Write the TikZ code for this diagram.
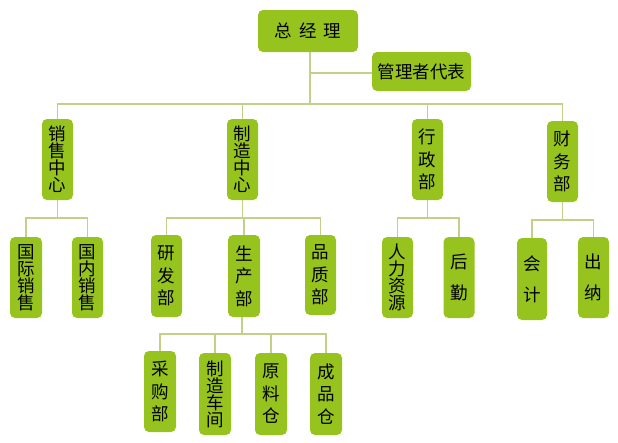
\documentclass[tikz,border=0pt]{standalone}
\usepackage{fontspec}
\newfontfamily\cjk{Noto Sans CJK SC}
\definecolor{boxgreen}{HTML}{96C31E}
\definecolor{linegreen}{HTML}{C2D08A}
\tikzset{
  box/.style={fill=boxgreen, rounded corners=5pt, inner sep=0pt, align=center, text=black},
  v4/.style={box, minimum width=31pt, minimum height=81pt, font=\cjk\fontsize{17.5}{17}\selectfont},
  v3/.style={box, minimum width=31pt, minimum height=81pt, font=\cjk\fontsize{17.5}{22.5}\selectfont},
  v2/.style={box, minimum width=31pt, minimum height=81pt, font=\cjk\fontsize{17.5}{31}\selectfont},
  hbox/.style={box, font=\cjk\fontsize{17.5}{18}\selectfont},
  link/.style={draw=linegreen, line width=1.3pt}
}
\begin{document}
\begin{tikzpicture}[x=1pt,y=-1pt]
\useasboundingbox (0,0) rectangle (618,442);
% coordinates for buses
\coordinate (b0) at (0,104);
\coordinate (bm) at (0,73);
\coordinate (b1) at (0,218);
\coordinate (b2) at (0,220);
\coordinate (b3) at (0,334);
% nodes
\node[hbox, minimum width=100pt, minimum height=42pt] (zjl) at (308,31) {总\hspace{7pt}经\hspace{7pt}理};
\node[hbox, minimum width=99pt, minimum height=39pt] (glz) at (421.5,71.5) {管理者代表};
\node[v4] (xs) at (57.5,159.5) {销\\售\\中\\心};
\node[v4] (zz) at (242.5,159.5) {制\\造\\中\\心};
\node[v3] (xz) at (427.5,159.5) {行\\政\\部};
\node[v3] (cw) at (562.5,161.5) {财\\务\\部};
\node[v4, minimum width=32pt] (gjxs) at (26,277.5) {国\\际\\销\\售};
\node[v4] (gnxs) at (87.5,277.5) {国\\内\\销\\售};
\node[v3, minimum height=82pt] (yf) at (166.5,276) {研\\发\\部};
\node[v3, minimum width=32pt, minimum height=82pt] (sc) at (244,276) {生\\产\\部};
\node[v3, minimum height=80pt] (pz) at (320.5,275) {品\\质\\部};
\node[v4] (rl) at (397.5,277.5) {人\\力\\资\\源};
\node[v2] (hq) at (459,277.5) {后\\勤};
\node[v2, minimum width=30pt, minimum height=82pt] (kj) at (532,279) {会\\计};
\node[v2] (cn) at (593.5,277.5) {出\\纳};
\node[v3, minimum width=32pt] (cg) at (160,391.5) {采\\购\\部};
\node[v4, minimum width=32pt, minimum height=82pt] (zzcj) at (215,394) {制\\造\\车\\间};
\node[v3, minimum width=32pt, minimum height=82pt] (ylc) at (271,394) {原\\料\\仓};
\node[v3, minimum width=32pt, minimum height=82pt] (cpc) at (326,394) {成\\品\\仓};
% connectors
\coordinate (t0) at ([xshift=2pt]zjl.south);
\draw[link] (t0) -- (t0 |- b0);
\draw[link] (t0 |- bm) -- (glz.west |- bm);
\foreach \c in {xs,zz,xz,cw} {
  \draw[link] (t0 |- b0) -| (\c.north);
}
\foreach \c in {gjxs,gnxs} {
  \draw[link] (xs.south) -- (xs.south |- b1) -| (\c.north);
}
\foreach \c in {yf,sc,pz} {
  \draw[link] (zz.south) -- (zz.south |- b1) -| (\c.north);
}
\foreach \c in {rl,hq} {
  \draw[link] (xz.south) -- (xz.south |- b1) -| (\c.north);
}
\foreach \c in {kj,cn} {
  \draw[link] (cw.south) -- (cw.south |- b2) -| (\c.north);
}
\foreach \c in {cg,zzcj,ylc,cpc} {
  \draw[link] ([xshift=-2pt]sc.south) -- ([xshift=-2pt]sc.south |- b3) -| (\c.north);
}
\end{tikzpicture}
\end{document}
